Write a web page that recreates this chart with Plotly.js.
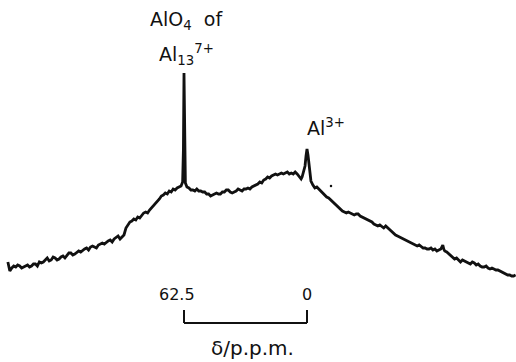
<!DOCTYPE html>
<html>
<head>
<meta charset="utf-8">
<script src="https://cdn.plot.ly/plotly-3.0.1.min.js"></script>
<style>html,body{margin:0;padding:0;background:#fff;}#chart{width:516px;height:362px;}</style>
</head>
<body>
<div id="chart"></div>
<script>
// chemical shift (ppm) and intensity (arbitrary units)
const shiftPpm = [152,151,150,149,148,147,146,145,144,143,142,141,140,139,138,137,136,135,134,133,132,131,130,129,128,127,126,125,124,123,122,121,120,119,118,117,116,115,114,113,112,111,110,109,108,107,106,105,104,103,102,101,100,99,98,97,96,95,94,93,92,91,90,89,88,87,86,85,84,83,82,81,80,79,78,77,76,75,74,73,72,71,70,69,68,67,66,65,64,63.2,62.8,62.5,62.2,61.8,61,60,59,58,57,56,55,54,53,52,51,50,49,48,47,46,45,44,43,42,41,40,39,38,37,36,35,34,33,32,31,30,29,28,27,26,25,24,23,22,21,20,19,18,17,16,15,14,13,12,11,10,9,8,7,6,5,4,3,2.5,2,1.5,1,0.5,0,-0.5,-1,-1.5,-2,-3,-4,-5,-6,-7,-8,-9,-10,-11,-12,-13,-14,-15,-16,-17,-18,-19,-20,-21,-22,-23,-24,-25,-26,-27,-28,-29,-30,-31,-32,-33,-34,-35,-36,-37,-38,-39,-40,-41,-42,-43,-44,-45,-46,-47,-48,-49,-50,-51,-52,-53,-54,-55,-56,-57,-58,-59,-60,-61,-62,-63,-64,-65,-66,-67,-68,-68.5,-69,-69.5,-70,-71,-72,-73,-74,-75,-76,-77,-78,-79,-80,-81,-82,-83,-84,-85,-86,-87,-88,-89,-90,-91,-92,-93,-94,-95,-96,-97,-98,-99,-100,-101,-102,-103,-104,-105,-106];
const intensity = [18,9,12,14,13,15,14,12,13,14,15,13,14,16,16,14,18,17,18,20,22,19,20,23,22,20,21,23,24,22,25,27,27,25,26,28,29,28,30,31,32,30,33,34,33,32,35,36,37,36,38,39,40,38,41,43,44,41,43,45,52,55,58,59,61,60,63,62,65,67,68,67,70,72,74,76,79,81,84,85,87,86,89,88,91,90,92,93,94,98,130,207,130,97,93,92,90,90,89,91,89,89,88,88,86,86,84,85,86,87,86,86,88,88,90,90,88,87,88,89,91,90,89,91,91,92,91,93,94,95,96,98,97,100,101,103,102,104,105,106,105,106,107,106,107,108,106,107,106,108,106,104,101,103,106,110,114,124,131,125,114,104,99,95,92,93,91,89,86,85,83,82,80,79,77,75,72,70,69,68,67,68,67,66,65,66,66,64,63,62,61,60,59,58,56,55,54,55,53,52,54,52,50,48,47,45,44,43,42,41,40,39,38,37,36,35,34,35,33,32,32,31,31,32,30,31,29,30,31,33,35,31,29,28,26,24,23,21,22,20,18,20,19,18,17,16,18,17,15,16,14,13,13,14,12,11,12,11,10,10,9,8,7,6,5,5,4,4,5];

// scale bar
const scaleEnds = [62.5, 0];
const scaleLabels = ["62.5", "0"];
const axisLabel = "δ/p.p.m.";

// peak labels
const peakLabelX = [61, 61, 1];
const peakLabelY = [260, 226, 153];
const peakLabels = ["AlO<sub>4</sub>  of", "Al<sub>13</sub><sup>7+</sup>", "Al<sup>3+</sup>"];

const black = "#111";
const fontFam = "DejaVu Sans, sans-serif";

const traces = [{
  x: shiftPpm, y: intensity, type: "scatter", mode: "lines",
  line: {color: black, width: 2.8}, hoverinfo: "skip"
}, {
  x: [-12.2], y: [94], type: "scatter", mode: "markers",
  marker: {color: black, size: 2.5}, hoverinfo: "skip"
}];

const annotations = peakLabels.map((t, i) => ({
  x: peakLabelX[i], y: peakLabelY[i], xref: "x", yref: "y", text: t,
  showarrow: false, xanchor: i === 2 ? "left" : "center", yanchor: "middle",
  font: {family: fontFam, size: 19, color: black}
}));
scaleLabels.forEach((t, i) => annotations.push({
  x: scaleEnds[i], y: -14, xref: "x", yref: "y", text: t, showarrow: false,
  xanchor: "center", yanchor: "middle",
  font: {family: fontFam, size: 16, color: black}
}));
annotations[3].x = 66;
annotations.push({
  x: 27.5, y: -68, xref: "x", yref: "y", text: axisLabel,
  showarrow: false, xanchor: "center", yanchor: "middle",
  font: {family: fontFam, size: 20, color: black}
});

const shapes = [
  {type: "line", xref: "x", yref: "y", x0: scaleEnds[0], x1: scaleEnds[1], y0: -43, y1: -43, line: {color: black, width: 2}},
  {type: "line", xref: "x", yref: "y", x0: scaleEnds[0], x1: scaleEnds[0], y0: -43, y1: -30, line: {color: black, width: 2}},
  {type: "line", xref: "x", yref: "y", x0: scaleEnds[1], x1: scaleEnds[1], y0: -43, y1: -30, line: {color: black, width: 2}}
];

const layout = {
  width: 516, height: 362,
  margin: {l: 0, r: 0, t: 0, b: 0},
  paper_bgcolor: "#fff", plot_bgcolor: "#fff",
  showlegend: false,
  xaxis: {range: [156.0, -106.2], visible: false, fixedrange: true},
  yaxis: {range: [-82, 280], visible: false, fixedrange: true},
  annotations: annotations,
  shapes: shapes
};

Plotly.newPlot("chart", traces, layout, {staticPlot: true, displayModeBar: false});
</script>
</body>
</html>
